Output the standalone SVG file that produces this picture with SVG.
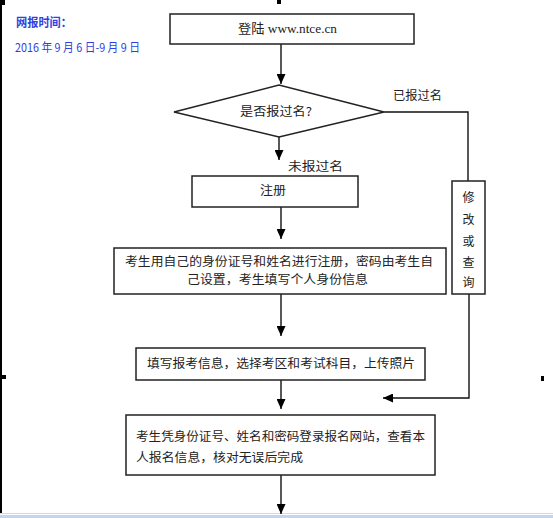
<svg xmlns="http://www.w3.org/2000/svg" width="553" height="518" viewBox="0 0 553 518">
<style>
.box{fill:#fff;stroke:#222;stroke-width:1.5}
.ln{fill:none;stroke:#111;stroke-width:1.4}
.t{font-family:"Noto Sans CJK SC","Noto Sans CJK JP",sans-serif;font-size:12px;fill:#222}
.tl{font-family:"Liberation Serif","Noto Sans CJK SC",serif;font-size:13px;fill:#222}
.blue{font-family:"Noto Sans CJK SC",sans-serif;font-size:12px;fill:#2f3fe0}
</style>
<defs>
<marker id="ah" markerUnits="userSpaceOnUse" markerWidth="11" markerHeight="9" refX="10" refY="4.5" orient="auto">
<path d="M0,0 L10,4.5 L0,9 z" fill="#000"/>
</marker>
</defs>
<rect x="0" y="0" width="553" height="518" fill="#fff"/>
<rect x="0" y="0" width="2" height="513" fill="#000"/>
<rect x="0" y="0" width="5" height="5" fill="#000"/>
<rect x="0" y="375" width="6" height="4" fill="#000"/>
<rect x="541" y="376" width="3" height="5" fill="#000"/>
<rect x="277" y="0" width="4" height="4" fill="#000"/>
<line x1="0" y1="513.5" x2="553" y2="513.5" stroke="#d8d8d8" stroke-width="1"/>
<rect x="0" y="515" width="553" height="3" fill="#c5d5ee"/>

<g id="info">
<text class="blue" x="16" y="27" font-weight="bold" textLength="56" lengthAdjust="spacingAndGlyphs">网报时间：</text>
<text class="blue" x="15" y="52" textLength="125" lengthAdjust="spacingAndGlyphs">2016 年 9 月 6 日-9 月 9 日</text>
</g>

<g id="connectors">
<line class="ln" x1="281" y1="44" x2="281" y2="84" marker-end="url(#ah)"/>
<line class="ln" x1="279" y1="137" x2="279" y2="160" marker-end="url(#ah)"/>
<line class="ln" x1="281" y1="207" x2="281" y2="239" marker-end="url(#ah)"/>
<line class="ln" x1="281" y1="294" x2="281" y2="336" marker-end="url(#ah)"/>
<line class="ln" x1="281" y1="380" x2="281" y2="409" marker-end="url(#ah)"/>
<line class="ln" x1="281" y1="475" x2="281" y2="514" marker-end="url(#ah)"/>
<polyline class="ln" points="384,112 468,112 468,181"/>
<polyline class="ln" points="469,294 469,398 383,398" marker-end="url(#ah)"/>
<text class="t" x="393" y="100" textLength="49" lengthAdjust="spacingAndGlyphs">已报过名</text>
<text class="t" x="288" y="171" textLength="55" lengthAdjust="spacingAndGlyphs">未报过名</text>
</g>

<g id="login">
<rect class="box" x="170" y="14" width="244" height="30"/>
<text class="tl" x="238" y="33" textLength="99" lengthAdjust="spacingAndGlyphs">登陆 www.ntce.cn</text>
</g>

<g id="decision">
<polygon class="box" points="174,112 279,85 384,112 279,137"/>
<text class="t" x="240" y="116" textLength="72" lengthAdjust="spacingAndGlyphs">是否报过名?</text>
</g>

<g id="register">
<rect class="box" x="192" y="176" width="166" height="31"/>
<text class="t" x="260" y="195" textLength="26" lengthAdjust="spacingAndGlyphs">注册</text>
</g>

<g id="idinfo">
<rect class="box" x="114" y="248" width="332" height="46"/>
<text class="t" x="125" y="266" textLength="308" lengthAdjust="spacingAndGlyphs">考生用自己的身份证号和姓名进行注册，密码由考生自</text>
<text class="t" x="187" y="284" textLength="181" lengthAdjust="spacingAndGlyphs">己设置，考生填写个人身份信息</text>
</g>

<g id="fill">
<rect class="box" x="136" y="348" width="289" height="32"/>
<text class="t" x="147" y="368" textLength="268" lengthAdjust="spacingAndGlyphs">填写报考信息，选择考区和考试科目，上传照片</text>
</g>

<g id="modify">
<rect class="box" x="452" y="181" width="33" height="113"/>
<text class="t" x="468.5" y="202" text-anchor="middle">修</text>
<text class="t" x="468.5" y="224" text-anchor="middle">改</text>
<text class="t" x="468.5" y="246" text-anchor="middle">或</text>
<text class="t" x="468.5" y="267" text-anchor="middle">查</text>
<text class="t" x="468.5" y="287" text-anchor="middle">询</text>
</g>

<g id="check">
<rect class="box" x="126" y="415" width="309" height="60"/>
<text class="t" x="136" y="441" textLength="289" lengthAdjust="spacingAndGlyphs">考生凭身份证号、姓名和密码登录报名网站，查看本</text>
<text class="t" x="136" y="462" textLength="167" lengthAdjust="spacingAndGlyphs">人报名信息，核对无误后完成</text>
</g>
</svg>
